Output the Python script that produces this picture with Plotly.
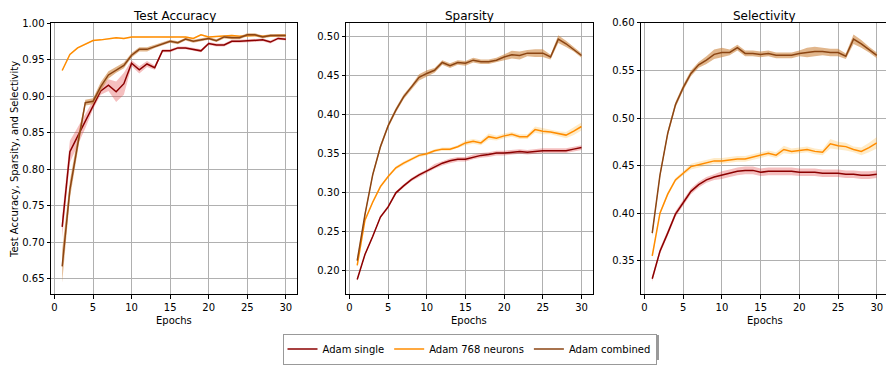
import plotly.graph_objects as go

epochs = list(range(1, 31))

# Test accuracy (mean and spread per epoch)
acc_single = [0.721, 0.824, 0.845, 0.866, 0.888, 0.907, 0.915, 0.906, 0.917, 0.945,
              0.936, 0.944, 0.939, 0.962, 0.962, 0.966, 0.966, 0.964, 0.962, 0.972,
              0.970, 0.970, 0.975, 0.975, 0.976, 0.976, 0.977, 0.974, 0.979, 0.978]
acc_single_std = [0.015, 0.015, 0.012, 0.010, 0.006, 0.005, 0.008, 0.014, 0.015, 0.004,
                  0.005, 0.004, 0.003, 0.002, 0.002, 0.002, 0.002, 0.002, 0.002, 0.002,
                  0.002, 0.002, 0.002, 0.002, 0.002, 0.002, 0.002, 0.002, 0.002, 0.002]
acc_768 = [0.935, 0.957, 0.966, 0.971, 0.976, 0.977, 0.978, 0.980, 0.979, 0.981,
           0.981, 0.981, 0.982, 0.982, 0.981, 0.982, 0.981, 0.979, 0.984, 0.981,
           0.982, 0.983, 0.983, 0.982, 0.983, 0.983, 0.982, 0.983, 0.983, 0.983]
acc_768_std = [0.001] * 30
acc_comb = [0.667, 0.772, 0.833, 0.891, 0.893, 0.913, 0.929, 0.936, 0.942, 0.956,
            0.964, 0.964, 0.968, 0.972, 0.975, 0.973, 0.978, 0.975, 0.977, 0.979,
            0.976, 0.981, 0.980, 0.980, 0.984, 0.984, 0.981, 0.983, 0.983, 0.983]
acc_comb_std = [0.022, 0.012, 0.010, 0.004, 0.004, 0.006, 0.005, 0.004, 0.004, 0.003,
                0.003, 0.003, 0.002, 0.002, 0.002, 0.002, 0.002, 0.002, 0.002, 0.002,
                0.002, 0.002, 0.002, 0.002, 0.002, 0.002, 0.002, 0.002, 0.002, 0.002]

# Sparsity
sp_single = [0.189, 0.221, 0.244, 0.269, 0.282, 0.300, 0.309, 0.317, 0.323, 0.328,
             0.334, 0.338, 0.341, 0.343, 0.343, 0.346, 0.348, 0.349, 0.351, 0.351,
             0.352, 0.353, 0.352, 0.353, 0.354, 0.354, 0.354, 0.354, 0.356, 0.358]
sp_single_std = [0.002] * 10 + [0.003] * 20
sp_768 = [0.207, 0.265, 0.288, 0.308, 0.321, 0.332, 0.338, 0.343, 0.348, 0.350,
          0.354, 0.356, 0.356, 0.359, 0.364, 0.366, 0.364, 0.372, 0.370, 0.373,
          0.375, 0.372, 0.372, 0.381, 0.379, 0.378, 0.376, 0.374, 0.379, 0.385]
sp_768_std = [0.002, 0.002, 0.002, 0.002, 0.002, 0.002, 0.002, 0.002, 0.002, 0.002,
              0.002, 0.002, 0.002, 0.002, 0.003, 0.003, 0.003, 0.004, 0.003, 0.003,
              0.003, 0.003, 0.003, 0.004, 0.004, 0.003, 0.003, 0.004, 0.005, 0.005]
sp_comb = [0.213, 0.272, 0.323, 0.359, 0.386, 0.406, 0.423, 0.435, 0.448, 0.453,
           0.457, 0.467, 0.463, 0.467, 0.466, 0.470, 0.468, 0.468, 0.470, 0.474,
           0.477, 0.476, 0.479, 0.479, 0.479, 0.474, 0.497, 0.491, 0.484, 0.476]
sp_comb_std = [0.003, 0.003, 0.003, 0.003, 0.003, 0.003, 0.003, 0.003, 0.004, 0.004,
               0.003, 0.003, 0.003, 0.003, 0.003, 0.003, 0.003, 0.003, 0.003, 0.004,
               0.005, 0.005, 0.004, 0.005, 0.005, 0.003, 0.005, 0.004, 0.003, 0.003]

# Selectivity
se_single = [0.331, 0.360, 0.379, 0.399, 0.411, 0.423, 0.430, 0.435, 0.438, 0.440,
             0.442, 0.444, 0.445, 0.445, 0.443, 0.444, 0.444, 0.444, 0.444, 0.443,
             0.443, 0.443, 0.442, 0.442, 0.442, 0.441, 0.441, 0.440, 0.440, 0.441]
se_single_std = [0.003] * 9 + [0.004] * 21
se_768 = [0.355, 0.400, 0.420, 0.435, 0.442, 0.449, 0.451, 0.453, 0.455, 0.455,
          0.456, 0.457, 0.457, 0.459, 0.461, 0.463, 0.461, 0.467, 0.465, 0.466,
          0.467, 0.465, 0.464, 0.473, 0.471, 0.470, 0.467, 0.465, 0.469, 0.474]
se_768_std = [0.002, 0.002, 0.002, 0.002, 0.002, 0.003, 0.003, 0.003, 0.003, 0.003,
              0.003, 0.003, 0.003, 0.003, 0.003, 0.003, 0.003, 0.004, 0.003, 0.003,
              0.003, 0.003, 0.003, 0.005, 0.004, 0.004, 0.003, 0.004, 0.005, 0.006]
se_comb = [0.379, 0.440, 0.484, 0.514, 0.532, 0.547, 0.556, 0.561, 0.567, 0.569,
           0.569, 0.574, 0.568, 0.568, 0.567, 0.568, 0.566, 0.566, 0.566, 0.568,
           0.569, 0.570, 0.570, 0.569, 0.569, 0.565, 0.583, 0.578, 0.572, 0.566]
se_comb_std = [0.003, 0.003, 0.003, 0.003, 0.003, 0.003, 0.003, 0.004, 0.005, 0.005,
               0.003, 0.003, 0.003, 0.003, 0.003, 0.003, 0.003, 0.003, 0.003, 0.003,
               0.005, 0.005, 0.004, 0.004, 0.004, 0.003, 0.005, 0.004, 0.003, 0.003]

titles = ["Test Accuracy", "Sparsity", "Selectivity"]
y_ticks = [[0.65, 0.70, 0.75, 0.80, 0.85, 0.90, 0.95, 1.00],
           [0.20, 0.25, 0.30, 0.35, 0.40, 0.45, 0.50],
           [0.35, 0.40, 0.45, 0.50, 0.55, 0.60]]
x_ticks = [0, 5, 10, 15, 20, 25, 30]

names = ["Adam single", "Adam 768 neurons", "Adam combined"]
line_colors = ["#8b0000", "#ff8c00", "#8b4513"]
band_colors = ["rgba(225,60,60,0.33)", "rgba(255,165,0,0.22)", "rgba(205,133,63,0.6)"]

panels = [
    [(acc_single, acc_single_std), (acc_768, acc_768_std), (acc_comb, acc_comb_std)],
    [(sp_single, sp_single_std), (sp_768, sp_768_std), (sp_comb, sp_comb_std)],
    [(se_single, se_single_std), (se_768, se_768_std), (se_comb, se_comb_std)],
]
y_ranges = [[0.6287, 1.0005], [0.170, 0.518], [0.3147, 0.6003]]

# the page body has an 8px margin, so the figure is drawn 8px in from the corner
OFF = 8
W, H = 894 - OFF, 365 - OFF


def px_x(x):
    return (x - OFF) / W


def px_y(y):
    return 1 - (y - OFF) / H


x_px = [(51, 297), (346, 592.7), (641, 888)]
y_dom = [px_y(294.3), px_y(22.7)]
font = "DejaVu Sans"

fig = go.Figure()
for i, panel in enumerate(panels):
    xa = "x" if i == 0 else "x%d" % (i + 1)
    ya = "y" if i == 0 else "y%d" % (i + 1)
    for j, (mean, std) in enumerate(panel):
        upper = [m + s for m, s in zip(mean, std)]
        lower = [m - s for m, s in zip(mean, std)]
        fig.add_trace(go.Scatter(x=epochs + epochs[::-1], y=upper + lower[::-1],
                                 fill="toself", fillcolor=band_colors[j],
                                 line=dict(width=0), hoverinfo="skip",
                                 showlegend=False, xaxis=xa, yaxis=ya))
        fig.add_trace(go.Scatter(x=epochs, y=mean, mode="lines", name=names[j],
                                 line=dict(color=line_colors[j], width=1.5),
                                 legendgroup=names[j], showlegend=(i == 0),
                                 xaxis=xa, yaxis=ya))

    axis_common = dict(showline=True, linecolor="black", linewidth=1, mirror=True,
                       ticks="outside", ticklen=3.5, tickcolor="black",
                       showgrid=True, gridcolor="#b0b0b0", gridwidth=0.8,
                       zeroline=False, automargin=False,
                       tickfont=dict(size=10, color="black"))
    x0, x1 = x_px[i]
    fig.update_layout(**{
        ("xaxis" if i == 0 else "xaxis%d" % (i + 1)): dict(
            domain=[px_x(x0), px_x(x1)], range=[-0.45, 31.45], tickvals=x_ticks,
            anchor=ya, **axis_common),
        ("yaxis" if i == 0 else "yaxis%d" % (i + 1)): dict(
            domain=y_dom, range=y_ranges[i], tickvals=y_ticks[i], tickformat=".2f",
            anchor=xa, **axis_common),
    })
    cx = px_x((x0 + x1) / 2)
    fig.add_annotation(text=titles[i], x=cx, y=1, xref="paper", yref="paper",
                       xanchor="center", yanchor="top", borderpad=0, showarrow=False,
                       font=dict(size=12, color="black"))
    fig.add_annotation(text="Epochs", x=cx, y=px_y(320), xref="paper", yref="paper",
                       xanchor="center", yanchor="middle", showarrow=False,
                       font=dict(size=10, color="black"))

fig.add_annotation(text="Test Accuracy, Sparsity, and Selectivity", textangle=-90,
                   x=0, y=px_y(159.5), xref="paper", yref="paper",
                   xanchor="left", yanchor="middle", borderpad=0, showarrow=False,
                   font=dict(size=10, color="black"))

# legend shadow
fig.add_shape(type="rect", xref="paper", yref="paper",
              x0=px_x(285), x1=px_x(659), y0=px_y(335), y1=px_y(360),
              fillcolor="#9a9a9a", line=dict(width=0), layer="below")

fig.update_layout(
    width=W, height=H,
    margin=dict(l=0, r=0, t=0, b=0, autoexpand=False),
    paper_bgcolor="white", plot_bgcolor="white",
    font=dict(family=font, size=10, color="black"),
    legend=dict(orientation="h", x=px_x(469.5), xanchor="center", y=px_y(349),
                yanchor="middle", bordercolor="#999999", borderwidth=1, bgcolor="white",
                font=dict(size=10), itemwidth=30, tracegroupgap=0),
)

fig.write_html("out.html")
